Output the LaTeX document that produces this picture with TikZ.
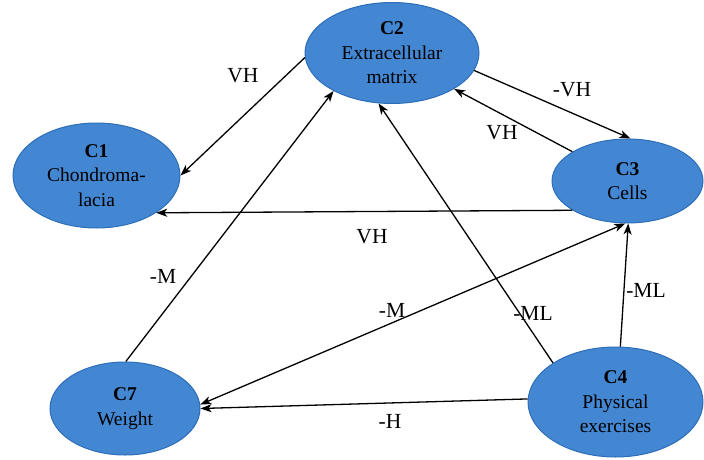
\documentclass[tikz,border=0pt]{standalone}
\usepackage{fontspec}
\setmainfont{Liberation Serif}
\usetikzlibrary{arrows.meta,shapes.geometric}
\definecolor{nodefill}{RGB}{67,134,210}
\definecolor{nodeedge}{RGB}{46,110,185}
\begin{document}
\begin{tikzpicture}[x=1pt,y=-1pt,
  concept/.style={ellipse,fill=nodefill,draw=nodeedge,line width=1pt,inner sep=0pt,
    align=center,text=black,font=\fontsize{19.5}{24.5}\selectfont},
  conn/.style={line width=1.3pt,-{Stealth[length=11pt,width=8pt,inset=3pt]}},
  conn2/.style={line width=1.3pt,{Stealth[length=11pt,width=8pt,inset=3pt]}-{Stealth[length=11pt,width=8pt,inset=3pt]}},
  lbl/.style={font=\fontsize{21.5}{24}\selectfont,inner sep=0pt}]
\useasboundingbox (0,0) rectangle (704,460);
\node[concept,minimum width=174pt,minimum height=101pt] (c2) at (392,53) {\textbf{C2}\\Extracellular\\matrix};
\node[concept,minimum width=167pt,minimum height=105pt] (c1) at (96.5,175.5) {\textbf{C1}\\Chondroma-\\lacia};
\node[concept,minimum width=151pt,minimum height=84pt] (c3) at (627.5,181) {\textbf{C3}\\Cells};
\node[concept,minimum width=175pt,minimum height=110pt] (c4) at (615.5,402) {\textbf{C4}\\Physical\\exercises};
\node[concept,minimum width=150pt,minimum height=93pt] (c7) at (125,408.5) {\textbf{C7}\\Weight};

\draw[conn] (c2.183) -- (c1.0);
\draw[conn] (c2.348) -- (c3.86);
\draw[conn] (c3.152) -- (c2.330);
\draw[conn] (c3.208) -- (c1.328);
\draw[conn] (c7.89) -- (c2.213);
\draw[conn] (c4.148) -- (c2.255);
\draw[conn] (c4.85) -- (c3.271);
\draw[conn] (c4.178) -- (c7.0);
\draw[conn2] (c7.3) -- (c3.267);

\node[lbl] (l1) at (243,76) {VH};
\node[lbl] (l2) at (572,90) {-VH};
\node[lbl] (l3) at (502,133) {VH};
\node[lbl] (l4) at (372,237) {VH};
\node[lbl] (l5) at (163,276) {-M};
\node[lbl] (l6) at (392,310) {-M};
\node[lbl] (l7) at (533,313) {-ML};
\node[lbl] (l8) at (646,290) {-ML};
\node[lbl] (l9) at (390,421) {-H};
\end{tikzpicture}
\end{document}
